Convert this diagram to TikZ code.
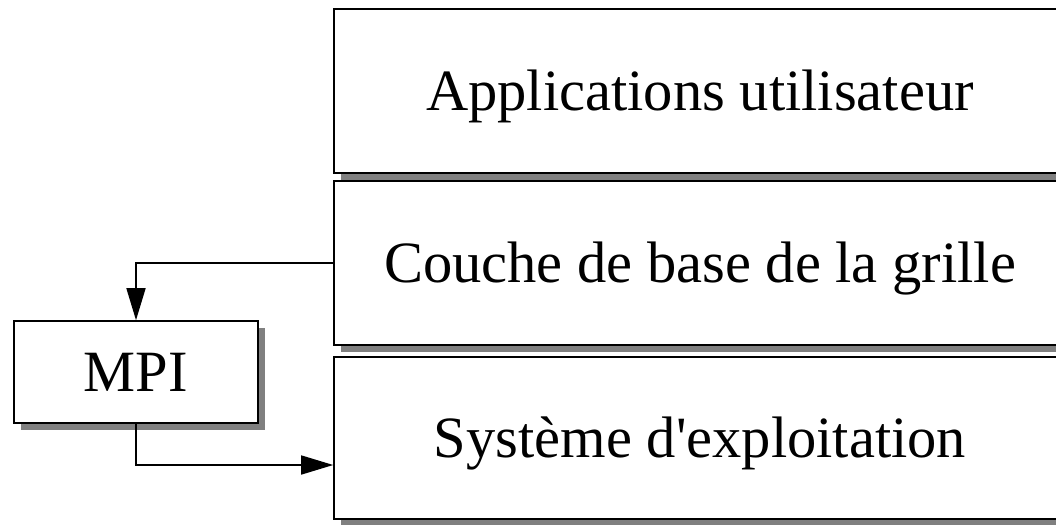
\documentclass[tikz,border=0pt]{standalone}
\usepackage{fontspec}
\setmainfont{Liberation Serif}
\usetikzlibrary{shadows,arrows.meta}
\begin{document}
\begin{tikzpicture}[x=1pt,y=-1pt,
  layer/.style={draw=black, line width=1.6pt, fill=white, inner sep=0pt,
    font=\fontsize{58.5}{62}\selectfont, text height=39pt, text depth=0pt,
    drop shadow={shadow xshift=7pt, shadow yshift=-7pt, fill=black!50, opacity=1}},
  arr/.style={draw=black, line width=1.6pt, -{Triangle[length=32pt,width=19pt]}}]
  \useasboundingbox (0,0) rectangle (1056,524);
  \begin{scope}
    \clip (0,0) rectangle (1056,524);
    \node[layer, minimum width=732pt, minimum height=164pt] (apps) at (700,91) {Applications utilisateur};
    \node[layer, minimum width=732pt, minimum height=164pt] (base) at (700,263) {Couche de base de la grille};
    \node[layer, minimum width=732pt, minimum height=162pt] (os) at (700,438) {Système d\textquotesingle exploitation};
    \node[layer, minimum width=244pt, minimum height=102pt] (mpi) at (136,372) {MPI};
  \end{scope}
  \draw[arr] (base.west) -| (mpi.north);
  \draw[arr] (mpi.south) |- ([yshift=-27pt]os.west);
\end{tikzpicture}
\end{document}
